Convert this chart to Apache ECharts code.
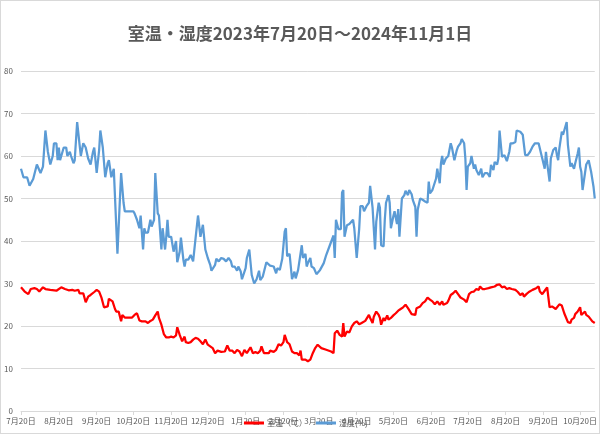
<!DOCTYPE html>
<html>
<head>
<meta charset="utf-8">
<script src="https://cdn.jsdelivr.net/npm/echarts@6/dist/echarts.min.js"></script>
<style>
html,body{margin:0;padding:0;background:#fff;}
#wrap{position:relative;width:600px;height:434px;}
#chart{position:absolute;left:0;top:0;width:600px;height:434px;}
#frame{position:absolute;left:0;top:0;width:600px;height:434px;box-sizing:border-box;border:1px solid #d9d9d9;pointer-events:none;}
</style>
</head>
<body>
<div id="wrap"><div id="chart"></div><div id="frame"></div></div>
<script>
// Axis range: first and last day of the chart
const startDate = '2023-07-20';
const endDate = '2024-11-01';

// Series names
const seriesNames = ['室温（℃）', '湿度(%)'];
const titleText = '室温・湿度2023年7月20日～2024年11月1日';

// Y axis ticks
const yMin = 0, yMax = 80, yStep = 10;

// Humidity readings: [days since 2023-07-20, %]
const humidityPoints = [
[0,57],[2,55],[5,55],[7,53],[10,54.6],[13,58],[16,56],[18,57.5],[20,66],[22,61],[24,58],[26,60],[27,63],[29,63],[30,59],[31,62],[32,59],[35,62],[37,62],[38,60],[40,61],[41,60],[43,58.3],[44,59],[46,68],[48,62.6],[49,60],[51,63],[53,62],[55,59.4],[57,58],[59,61],[60,62],[62,56],[64,61.4],[65,66],[66,66],[67,62],[69,55],[71,58.3],[72,59],[74,55],[76,57],[77,57],[79,37],[82,56],[84,49],[85,47],[92,47],[93,46.5],[95,45],[97,43],[98,46],[100,38],[101,43],[102,42],[104,42],[106,45],[107,43.4],[109,45],[110,56],[112,46.5],[113,46],[115,38],[116,43],[118,38],[119,41],[120,45],[121,41],[123,41],[125,37.5],[127,40],[128,35],[130,37.5],[131,40.8],[133,35.6],[134,34],[135,35.6],[137,35.6],[139,36.7],[141,35.2],[143,40.7],[145,46],[147,41],[149,43.8],[151,38],[153,36],[155,34.4],[156,33],[159,34.4],[160,35.8],[162,35.2],[164,36],[166,35.8],[168,35.2],[170,36],[172,35.2],[173,34],[175,34],[177,33],[178,34],[180,32.8],[181,31],[184,33.6],[185,36],[187,38],[189,32],[191,30],[193,31],[195,33],[196,30.8],[198,31.6],[199,32],[201,35],[202,35.2],[204,34.2],[207,34],[209,32.4],[210,33.6],[212,33.2],[214,35.8],[216,42.2],[217,43],[218,36.4],[220,37],[222,31],[224,32.8],[225,31.2],[227,33.2],[228,33],[230,39],[231,36],[233,37],[234,34],[235,34.8],[237,36],[238,34],[240,33.6],[242,32.2],[245,33.2],[248,34.8],[250,36.7],[253,39],[256,41.3],[257,36],[258,45],[260,42.8],[262,42.8],[263,51.4],[264,52],[265,41],[267,43.7],[269,44],[270,44],[272,45],[273,43],[275,36],[277,42.8],[278,48.2],[280,48.2],[281,47],[283,48.2],[285,49],[286,53],[288,47.8],[290,38],[291,44.5],[293,49],[294,47.8],[295,39],[297,38.7],[298,45],[299,49],[301,50.8],[302,49],[303,43],[305,45.8],[306,47],[308,44],[309,47.5],[310,41],[312,50],[314,50.8],[315,51.8],[317,50.8],[318,52],[320,51],[321,49.6],[323,48],[324,41],[325,47.4],[327,50],[329,49.7],[331,49.3],[333,49],[334,54],[335,51.2],[337,52],[338,52.4],[340,54.7],[341,57],[343,53.6],[344,58.3],[345,60],[346,58],[348,59.4],[350,60],[352,63],[353,62],[355,59],[357,61.4],[358,62.2],[360,63],[361,64],[363,63],[364,59.4],[365,52],[366,57.5],[368,58.3],[369,60],[371,57],[372,58],[373,56.7],[375,55.5],[377,57],[378,55],[380,56],[382,56],[384,55.1],[385,57.9],[387,56.7],[388,58.6],[390,58],[391,59.4],[392,66],[394,59.8],[396,60.2],[398,58.8],[400,61],[401,63],[403,63],[405,63.3],[406,66],[409,65.7],[411,65],[413,60.2],[415,60.2],[417,61],[419,62.2],[421,63],[422,62.6],[424,63],[426,60.6],[427,59.4],[429,57],[430,61],[431,58.3],[433,54],[434,59.4],[436,61.4],[438,62],[439,60.2],[440,59],[441,61.8],[443,65.7],[444,65],[445,66],[447,68],[448,62.6],[450,57.5],[451,58.3],[453,57],[454,58.3],[456,60.6],[457,62],[458,57.5],[459,56.3],[460,52],[462,56],[463,58],[464,58],[465,59],[467,56.3],[468,56],[469,52.7],[470,50]
];

// Temperature readings: [days since 2023-07-20, ℃]
const temperaturePoints = [
[0,29.1],[3,28.1],[6,27.5],[8,28.7],[11,28.9],[13,28.7],[15,28.1],[18,29.1],[20,28.7],[24,28.5],[29,28.3],[33,29.1],[36,28.7],[39,28.4],[42,28.5],[44,28.3],[47,28.5],[48,27.7],[51,27.7],[53,25.6],[55,26.9],[57,27.3],[60,28],[62,28.5],[64,28.1],[66,26.6],[68,24.4],[71,24.6],[72,26.4],[75,25.8],[77,24],[78,23.4],[80,23.4],[82,21.1],[83,22.6],[85,22],[88,22],[91,22],[93,22.6],[95,23],[97,21.3],[99,21.1],[102,21.1],[104,20.7],[106,21.2],[108,21.5],[110,22.5],[112,23.4],[113,21.9],[115,20.3],[117,18.1],[119,17.3],[121,17.3],[123,17.5],[125,17.3],[127,17.8],[128,19.7],[130,17.9],[132,16.4],[134,17.5],[135,16.2],[137,16],[139,16.2],[141,16.8],[143,17.2],[145,17],[147,16.4],[149,15.7],[151,16.8],[153,15.6],[155,15.2],[157,14.8],[159,13.6],[161,14.2],[164,13.9],[167,14],[168,14.4],[169,15.4],[171,14.2],[173,14.2],[175,13.6],[177,14.4],[179,14],[181,12.9],[183,14.4],[185,13.6],[186,14],[188,15],[190,13.6],[192,13.9],[194,13.6],[196,14.2],[197,15.2],[199,13.6],[200,13.9],[203,13.6],[204,14.2],[207,13.9],[209,14.4],[211,15.7],[213,15.4],[215,16.2],[216,17.9],[218,16.2],[220,15.7],[222,14],[224,13.6],[226,13.6],[228,13.1],[229,14.2],[230,12.1],[233,12.1],[235,11.7],[237,12.1],[239,13.6],[241,14.8],[243,15.6],[246,14.8],[250,14.4],[254,14],[256,13.6],[257,18.3],[259,18.9],[261,17.9],[263,17.5],[264,20.7],[265,17.5],[267,18.7],[269,18.5],[271,19.9],[273,20.7],[275,21.1],[277,20.4],[279,20.7],[280,20.3],[282,21.2],[285,22.6],[286,21.9],[288,20.7],[289,22.2],[291,23.4],[293,22.6],[294,21.9],[295,20.3],[297,21.9],[298,21.2],[300,22.5],[301,21.5],[303,21.9],[305,22.5],[307,23],[309,23.6],[311,24],[313,24.4],[315,25],[317,24.2],[318,24],[320,22.8],[323,22.6],[324,24.2],[327,24.6],[329,25.4],[331,25.8],[333,26.7],[335,26.2],[337,25.8],[339,25.1],[341,25.8],[343,25],[345,25.8],[346,25],[349,25.4],[350,25.9],[352,27.3],[354,27.7],[356,28.3],[358,27.5],[360,26.7],[363,26.2],[365,25.6],[367,27.5],[369,28],[371,28.1],[373,28.7],[375,28.5],[376,29.3],[378,28.7],[380,28.7],[383,28.9],[385,29.1],[386,29.3],[388,29.3],[390,29.7],[392,29.8],[394,29.1],[396,29.3],[398,28.7],[400,28.9],[402,28.7],[405,28.5],[407,28],[409,27.3],[411,27.7],[412,26.9],[414,27.5],[416,28],[419,28.5],[422,28.9],[424,29.3],[425,28.1],[427,27.5],[429,28.3],[431,29.1],[433,24.4],[435,24.6],[436,25],[438,24],[439,23.8],[441,25.1],[443,24.8],[445,23],[446,22.6],[448,20.9],[450,20.7],[451,21.5],[453,21.9],[454,22.8],[456,23.4],[458,24.4],[459,22.6],[460,23],[462,23.4],[463,22.6],[465,22.2],[466,22.2],[468,21.1],[469,20.7],[470,20.7]
];

// Build daily category axis
function buildDays(s, e) {
  const out = [];
  const d = new Date(s + 'T00:00:00Z');
  const end = new Date(e + 'T00:00:00Z');
  while (d <= end) {
    out.push(d.toISOString().slice(0, 10));
    d.setUTCDate(d.getUTCDate() + 1);
  }
  return out;
}
const days = buildDays(startDate, endDate);
const isLabelDay = (idx, val) => val.slice(8, 10) === '20';

const font = '"Noto Sans CJK JP", "Noto Sans", sans-serif';
const chart = echarts.init(document.getElementById('chart'), null, {renderer: 'canvas'});
chart.setOption({
  animation: false,
  backgroundColor: '#ffffff',
  title: {
    text: titleText,
    left: 'center',
    top: 20,
    textStyle: {color: '#595959', fontSize: 17, fontWeight: 'bold', fontFamily: font}
  },
  legend: {
    data: seriesNames,
    left: 239,
    top: 414,
    icon: 'rect',
    itemWidth: 20,
    itemHeight: 3,
    itemGap: 9,
    textStyle: {color: '#595959', fontSize: 8, fontFamily: font, padding: [0,0,0,-2]}
  },
  grid: {left: 21, right: 5, top: 71, bottom: 23, containLabel: false},
  xAxis: {
    type: 'category',
    data: days,
    boundaryGap: false,
    axisLine: {lineStyle: {color: '#d9d9d9', width: 1}},
    axisTick: {show: true, interval: isLabelDay, length: 4, lineStyle: {color: '#d9d9d9'}},
    axisLabel: {
      interval: isLabelDay,
      margin: 6,
      color: '#595959',
      fontSize: 8,
      fontFamily: font,
      hideOverlap: false,
      formatter: v => (+v.slice(5, 7)) + '月' + (+v.slice(8, 10)) + '日'
    },
    splitLine: {show: false}
  },
  yAxis: {
    type: 'value',
    min: yMin, max: yMax, interval: yStep,
    axisLine: {show: false},
    axisTick: {show: false},
    axisLabel: {color: '#595959', fontSize: 8, fontFamily: font, margin: 8},
    splitLine: {lineStyle: {color: '#d9d9d9', width: 1}}
  },
  series: [
    {
      name: seriesNames[0], type: 'line', data: temperaturePoints,
      showSymbol: false, symbol: 'none',
      lineStyle: {color: '#ff0000', width: 2.25}, itemStyle: {color: '#ff0000'},
      z: 3
    },
    {
      name: seriesNames[1], type: 'line', data: humidityPoints,
      showSymbol: false, symbol: 'none',
      lineStyle: {color: '#5b9bd5', width: 2.25}, itemStyle: {color: '#5b9bd5'},
      z: 2
    }
  ]
});
</script>
</body>
</html>
